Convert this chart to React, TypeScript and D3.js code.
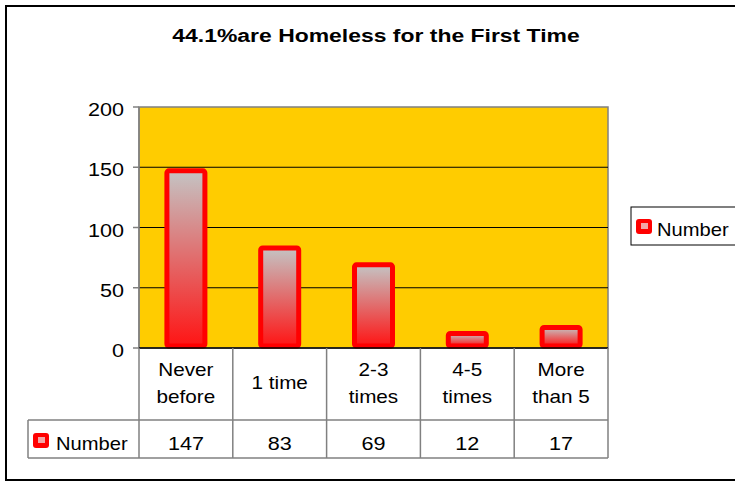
import React from 'react';
import * as d3 from 'd3';

const categories = [['Never', 'before'], ['1 time'], ['2-3', 'times'], ['4-5', 'times'], ['More', 'than 5']];
const values = [147, 83, 69, 12, 17];
const seriesName = 'Number';
const yTicks = [0, 50, 100, 150, 200];
const title = '44.1%are Homeless for the First Time';

const font = '"Liberation Sans", Arial, sans-serif';

// wide-ish text: the original renders glyphs broader than Arial
function T({ x, y, anchor = 'start', size = 18, sx = 1.15, bold = false, children }:
  { x: number; y: number; anchor?: string; size?: number; sx?: number; bold?: boolean; children: React.ReactNode }) {
  return (
    <text transform={`translate(${x},${y}) scale(${sx},1)`} textAnchor={anchor} fontFamily={font}
      fontSize={size} fontWeight={bold ? 'bold' : 'normal'} fill="#000">{children}</text>
  );
}

function Marker({ x0, y0 }: { x0: number; y0: number }) {
  return (
    <g>
      <rect x={x0} y={y0} width={16} height={15} rx={3} fill="#ff0000" />
      <rect x={x0 + 5} y={y0 + 4} width={7} height={6} fill="#f2a6a6" />
    </g>
  );
}

export default function App() {
  const left = 139, right = 608, top = 107, bottom = 348;
  const rowSplit = 420, tableBottom = 458, labelLeft = 28;

  const x = d3.scaleBand<number>().domain(d3.range(values.length)).range([left, right]);
  const y = d3.scaleLinear().domain([0, 200]).range([bottom, top]);
  const barW = 38;

  return (
    <svg width={735} height={481} style={{ position: 'absolute', left: 0, top: 0 }}>
      <defs>
        <linearGradient id="barGrad" x1="0" y1="0" x2="0" y2="1">
          <stop offset="0" stopColor="#c4c4c4" />
          <stop offset="1" stopColor="#ff1414" />
        </linearGradient>
      </defs>
      <rect x={0} y={0} width={735} height={481} fill="#fff" />
      <rect x={6} y={6} width={740} height={474} fill="#fff" stroke="#000" strokeWidth={2} />
      <T x={376} y={42} anchor="middle" size={18.5} sx={1.24} bold>{title}</T>

      {/* plot area */}
      <rect x={left} y={top} width={right - left} height={bottom - top} fill="#ffcc00" stroke="#808080" strokeWidth={1.5} />
      {yTicks.filter(t => t > 0 && t < 200).map(t => (
        <line key={t} x1={left} x2={right} y1={y(t)} y2={y(t)} stroke="#000" strokeWidth={1} />
      ))}
      <line x1={left} x2={left} y1={top} y2={bottom} stroke="#808080" strokeWidth={1.5} />
      {yTicks.map(t => (
        <g key={t}>
          <line x1={left - 6} x2={left} y1={y(t)} y2={y(t)} stroke="#808080" strokeWidth={1.5} />
          <T x={124} y={y(t) + 9} anchor="end" sx={1.2}>{t}</T>
        </g>
      ))}

      {values.map((v, i) => {
        const cx = x(i)! + x.bandwidth() / 2;
        return (
          <rect key={i} x={cx - barW / 2} y={y(v)} width={barW} height={bottom - y(v) - 2}
            rx={2} fill="url(#barGrad)" stroke="#ff0000" strokeWidth={5} />
        );
      })}
      <line x1={left} x2={right} y1={bottom} y2={bottom} stroke="#000" strokeWidth={1.5} />

      {/* data table */}
      <g stroke="#808080" strokeWidth={1.5}>
        {d3.range(values.length + 1).map(i => {
          const xx = i === values.length ? right : x(i)!;
          return <line key={i} x1={xx} x2={xx} y1={bottom} y2={tableBottom} />;
        })}
        <line x1={labelLeft} x2={labelLeft} y1={rowSplit} y2={tableBottom} />
        <line x1={labelLeft} x2={right} y1={rowSplit} y2={rowSplit} />
        <line x1={labelLeft} x2={right} y1={tableBottom} y2={tableBottom} />
      </g>
      {categories.map((lines, i) => {
        const cx = x(i)! + x.bandwidth() / 2;
        const start = lines.length === 1 ? 389 : 376;
        return (
          <g key={i}>
            {lines.map((l, j) => (
              <T key={j} x={cx} y={start + j * 27} anchor="middle">{l}</T>
            ))}
          </g>
        );
      })}
      {values.map((v, i) => (
        <T key={i} x={x(i)! + x.bandwidth() / 2} y={450} anchor="middle" sx={1.2}>{v}</T>
      ))}
      <Marker x0={33} y0={433} />
      <T x={56} y={450} sx={1.12}>{seriesName}</T>

      {/* legend */}
      <rect x={631} y={207} width={110} height={38} fill="#fff" stroke="#000" strokeWidth={1} />
      <Marker x0={636} y0={219} />
      <T x={657} y={236} sx={1.12}>{seriesName}</T>
    </svg>
  );
}
